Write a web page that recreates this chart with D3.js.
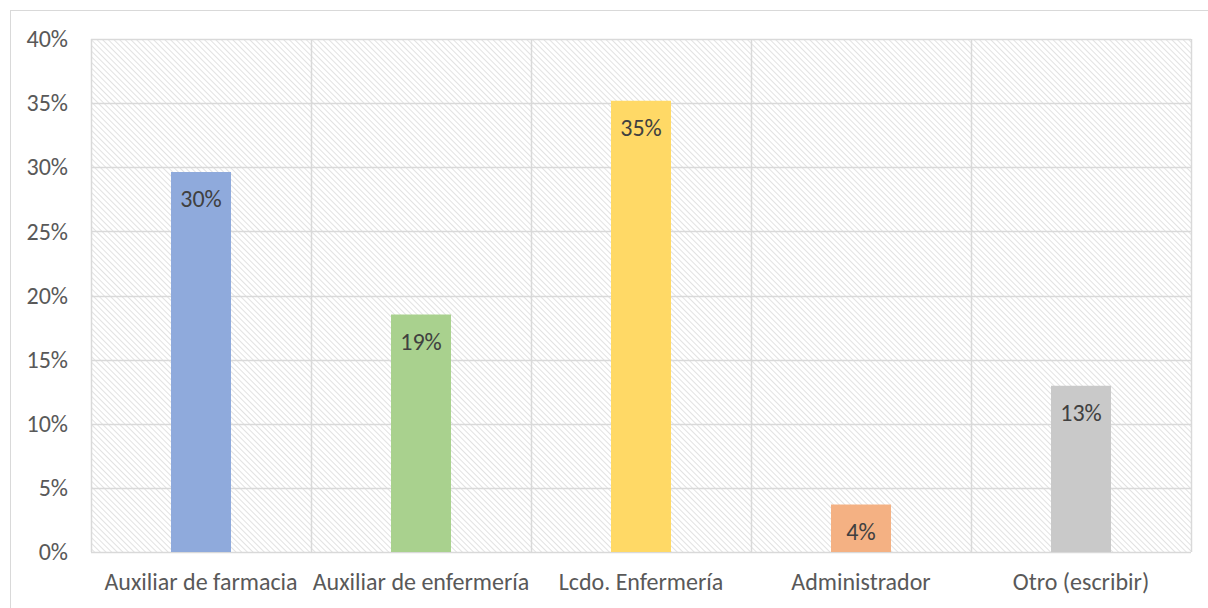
<!DOCTYPE html>
<html>
<head>
<meta charset="utf-8">
<script src="https://cdn.jsdelivr.net/npm/d3@7"></script>
<style>
  body { margin: 0; background: #fff; }
  svg { display: block; font-family: Carlito, Calibri, "Open Sans", sans-serif; }
</style>
</head>
<body>
<div id="chart"></div>
<script>
let categories = ["Auxiliar de farmacia", "Auxiliar de enfermería", "Lcdo. Enfermería", "Administrador", "Otro (escribir)"];
let values = [16 / 54, 10 / 54, 19 / 54, 2 / 54, 7 / 54];
let colors = ["#8FAADC", "#A9D18E", "#FFD966", "#F4B183", "#C9C9C9"];
let yTicks = [0, 0.05, 0.10, 0.15, 0.20, 0.25, 0.30, 0.35, 0.40];

let width = 1208;
let height = 608;
let margin = ({ top: 39, right: 17, bottom: 56, left: 91 });
let gridColor = "#D9D9D9";
let fontSize = 24;

const svg = d3.select("#chart").append("svg")
    .attr("width", width)
    .attr("height", height);

// hatch background for the plot area (lines running top-left to bottom-right)
const defs = svg.append("defs");
defs.append("pattern")
    .attr("id", "hatch")
    .attr("patternUnits", "userSpaceOnUse")
    .attr("width", 4)
    .attr("height", 4)
    .attr("patternTransform", "rotate(-45)")
    .call(p => p.append("rect").attr("width", 4).attr("height", 4).attr("fill", "#fff"))
    .call(p => p.append("line")
        .attr("x1", 0).attr("y1", 0).attr("x2", 0).attr("y2", 4)
        .attr("stroke", "#D9D9D9").attr("stroke-width", 1.5));

// chart border
svg.append("rect")
    .attr("x", 10.5)
    .attr("y", 10.5)
    .attr("width", width)
    .attr("height", height)
    .attr("fill", "none")
    .attr("stroke", "#D9D9D9");

let x = d3.scaleBand()
    .domain(categories)
    .range([margin.left, width - margin.right])
    .paddingInner(0)
    .paddingOuter(0);

let y = d3.scaleLinear()
    .domain([0, 0.4])
    .range([height - margin.bottom, margin.top]);

svg.append("rect")
    .attr("x", margin.left)
    .attr("y", margin.top)
    .attr("width", width - margin.left - margin.right)
    .attr("height", height - margin.top - margin.bottom)
    .attr("fill", "url(#hatch)");

// horizontal grid
svg.append("g")
    .selectAll("line")
    .data(yTicks)
    .join("line")
    .attr("x1", margin.left)
    .attr("x2", width - margin.right)
    .attr("y1", d => Math.round(y(d)) + 0.5)
    .attr("y2", d => Math.round(y(d)) + 0.5)
    .attr("stroke", gridColor)
    .attr("stroke-width", 1.5);

// vertical grid at category boundaries
let bounds = categories.map(c => x(c)).concat([width - margin.right]);
svg.append("g")
    .selectAll("line")
    .data(bounds)
    .join("line")
    .attr("x1", d => Math.round(d) + 0.5)
    .attr("x2", d => Math.round(d) + 0.5)
    .attr("y1", margin.top)
    .attr("y2", height - margin.bottom)
    .attr("stroke", gridColor)
    .attr("stroke-width", 1.5);

// y axis labels
const yAxis = svg.append("g")
    .attr("transform", `translate(${margin.left},0)`)
    .call(d3.axisLeft(y).tickValues(yTicks).tickFormat(d3.format(".0%")).tickSize(0).tickPadding(23));
yAxis.select(".domain").remove();
yAxis.selectAll("text")
    .attr("font-size", fontSize)
    .attr("font-family", "Carlito, Calibri, 'Open Sans', sans-serif")
    .attr("fill", "#595959");

// x axis labels
const xAxis = svg.append("g")
    .attr("transform", `translate(0,${height - margin.bottom})`)
    .call(d3.axisBottom(x).tickSize(0).tickPadding(21));
xAxis.select(".domain").remove();
xAxis.selectAll("text")
    .attr("font-size", fontSize)
    .attr("font-family", "Carlito, Calibri, 'Open Sans', sans-serif")
    .attr("fill", "#595959");

// bars
let barWidth = 60;
svg.append("g")
    .selectAll("rect")
    .data(values)
    .join("rect")
    .attr("x", (d, i) => x(categories[i]) + x.bandwidth() / 2 - barWidth / 2)
    .attr("y", d => y(d))
    .attr("width", barWidth)
    .attr("height", d => y(0) - y(d))
    .attr("fill", (d, i) => colors[i]);

// value labels
svg.append("g")
    .selectAll("text")
    .data(values)
    .join("text")
    .attr("x", (d, i) => x(categories[i]) + x.bandwidth() / 2)
    .attr("y", d => y(d) + 35)
    .attr("text-anchor", "middle")
    .attr("font-size", fontSize)
    .attr("fill", "#404040")
    .text(d => d3.format(".0%")(d));
</script>
</body>
</html>
